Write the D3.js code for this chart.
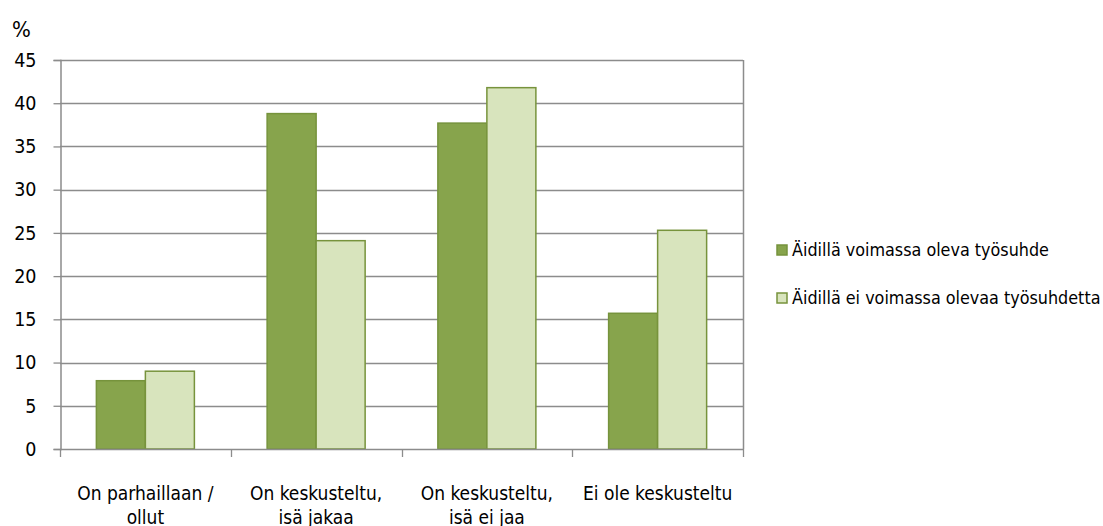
<!DOCTYPE html>
<html lang="fi">
<head>
<meta charset="utf-8">
<title>Kaavio</title>
<script src="https://d3js.org/d3.v7.min.js"></script>
<style>
  body { margin: 0; background: #fff; }
  text { font-family: "DejaVu Sans Condensed", "Liberation Sans Narrow", sans-serif; fill: #000; }
</style>
</head>
<body>
<script>
// data
var categories = [["On parhaillaan /", "ollut"], ["On keskusteltu,", "isä jakaa"], ["On keskusteltu,", "isä ei jaa"], ["Ei ole keskusteltu"]];
var seriesNames = ["Äidillä voimassa oleva työsuhde", "Äidillä ei voimassa olevaa työsuhdetta"];
var valuesWork = [7.9, 38.8, 37.7, 15.7];
var valuesNoWork = [9.0, 24.1, 41.8, 25.3];
var yTicks = [0, 5, 10, 15, 20, 25, 30, 35, 40, 45];

var fills = ["#87a44c", "#d8e4bd"];
var strokes = ["#76933c", "#77933c"];

var W = 1103, H = 526;
var mLeft = 60, mRight = 743, mTop = 60, mBottom = 449;

var svg = d3.select("body").append("svg").attr("width", W).attr("height", H);

var x = d3.scaleBand().domain(d3.range(categories.length)).range([mLeft, mRight]);
var groupW = x.bandwidth() * 0.574;
var inner = d3.scaleBand().domain([0, 1]).range([0, groupW]);
var groupOffset = (x.bandwidth() - groupW) / 2;
var y = d3.scaleLinear().domain([0, 45]).range([mBottom, mTop]);

// gridlines
svg.append("g").selectAll("line").data(yTicks.slice(1)).enter().append("line")
  .attr("x1", mLeft).attr("x2", mRight)
  .attr("y1", function(d){ return Math.round(y(d)) + 0.5; })
  .attr("y2", function(d){ return Math.round(y(d)) + 0.5; })
  .attr("stroke", "#8c8c8c").attr("stroke-width", 1.3);

// right border
svg.append("line").attr("x1", mRight + 0.5).attr("x2", mRight + 0.5).attr("y1", mTop).attr("y2", mBottom)
  .attr("stroke", "#8c8c8c").attr("stroke-width", 1.5);

// bars
var data = [valuesWork, valuesNoWork];
data.forEach(function(vals, s) {
  svg.append("g").selectAll("rect").data(vals).enter().append("rect")
    .attr("x", function(d, i){ return x(i) + groupOffset + inner(s); })
    .attr("y", function(d){ return y(d); })
    .attr("width", inner.bandwidth())
    .attr("height", function(d){ return y(0) - y(d); })
    .attr("fill", fills[s]).attr("stroke", strokes[s]).attr("stroke-width", 1.5);
});

// y axis
var yAxis = d3.axisLeft(y).tickValues(yTicks).tickSize(7).tickPadding(17).tickFormat(d3.format("d"));
var gy = svg.append("g").attr("transform", "translate(" + (mLeft + 0.5) + ",0)").call(yAxis);
gy.select(".domain").attr("stroke", "#8c8c8c").attr("stroke-width", 1.5);
gy.selectAll(".tick line").attr("stroke", "#8c8c8c").attr("stroke-width", 1.3);
gy.selectAll(".tick text").attr("font-size", 19.5).attr("fill", "#000")
  .style("font-family", "'DejaVu Sans Condensed', sans-serif");

// x axis
var xTickPos = d3.range(categories.length + 1).map(function(i){ return mLeft + i * x.bandwidth(); });
svg.append("line").attr("x1", mLeft).attr("x2", mRight).attr("y1", mBottom + 0.5).attr("y2", mBottom + 0.5)
  .attr("stroke", "#8c8c8c").attr("stroke-width", 1.5);
svg.append("g").selectAll("line").data(xTickPos).enter().append("line")
  .attr("x1", function(d){ return Math.round(d) + 0.5; }).attr("x2", function(d){ return Math.round(d) + 0.5; })
  .attr("y1", mBottom).attr("y2", mBottom + 8)
  .attr("stroke", "#8c8c8c").attr("stroke-width", 1.3);

var labels = svg.append("g").selectAll("text").data(categories).enter().append("text")
  .attr("x", function(d, i){ return x(i) + x.bandwidth() / 2; })
  .attr("y", 500).attr("text-anchor", "middle").attr("font-size", 19);
labels.selectAll("tspan").data(function(d){ return d; }).enter().append("tspan")
  .attr("x", function(){ return d3.select(this.parentNode).attr("x"); })
  .attr("dy", function(d, i){ return i === 0 ? 0 : 24; })
  .text(function(d){ return d; });

// unit label
svg.append("text").attr("x", 12).attr("y", 37).attr("font-size", 22).text("%");

// legend
var legend = svg.append("g").selectAll("g").data(seriesNames).enter().append("g")
  .attr("transform", function(d, i){ return "translate(777," + (245 + i * 48) + ")"; });
legend.append("rect").attr("width", 10).attr("height", 10)
  .attr("fill", function(d, i){ return fills[i]; })
  .attr("stroke", function(d, i){ return strokes[i]; }).attr("stroke-width", 1.5);
legend.append("text").attr("x", 15).attr("y", 11).attr("font-size", 17.8).text(function(d){ return d; });
</script>
</body>
</html>
